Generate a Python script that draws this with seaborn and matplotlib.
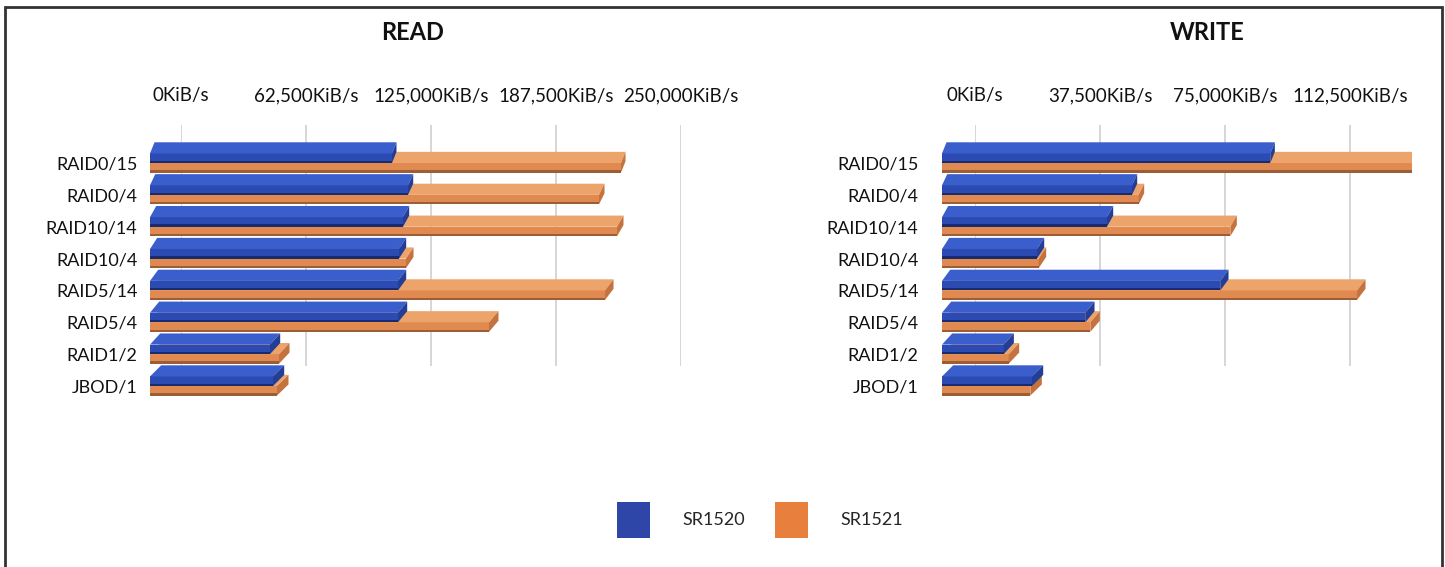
import numpy as np
import pandas as pd
import matplotlib
matplotlib.use("Agg")
import matplotlib.pyplot as plt
from matplotlib.patches import Polygon, Rectangle, Patch
from matplotlib.ticker import FuncFormatter
import seaborn as sns

# ---- data -------------------------------------------------------------
categories = ["RAID0/15", "RAID0/4", "RAID10/14", "RAID10/4",
              "RAID5/14", "RAID5/4", "RAID1/2", "JBOD/1"]
series = ["SR1520", "SR1521"]

read_sr1520 = [121000, 129000, 126500, 124500, 124000, 124000, 60000, 61500]
read_sr1521 = [235500, 224500, 233500, 128000, 227500, 169500, 64500, 63500]

write_sr1520 = [98500, 57000, 49500, 28500, 83500, 43000, 18500, 27000]
write_sr1521 = [145000, 59000, 86500, 29000, 124500, 44500, 20000, 26500]

read_ticks = [0, 62500, 125000, 187500, 250000]
write_ticks = [0, 37500, 75000, 112500]

# ---- style ------------------------------------------------------------
sns.set_theme(style="white")
plt.rcParams["font.family"] = ["Lato", "DejaVu Sans"]

W, H = 1445, 567
fig = plt.figure(figsize=(W / 100, H / 100), dpi=100)
fig.patch.set_facecolor("white")

face = {
    "SR1520": dict(front="#2B4BB2", top="#3A5FCD", side="#223E96", edge="#15235E"),
    "SR1521": dict(front="#E08A52", top="#EDA46B", side="#C4733F", edge="#8A5431"),
}
legend_colors = {"SR1520": "#2E46A8", "SR1521": "#E97F3C"}


def rect(l, t, r, b):
    return [l / W, 1 - b / H, (r - l) / W, (b - t) / H]


def kib(v, _pos=None):
    return f"{int(v):,}KiB/s"


ROW_PX = 31.86
ROW0_PX = 163


def panel(values_a, values_b, ticks, title, title_x, per_px,
          front_lr, back_lr, label_pad):
    df = pd.DataFrame({
        "Array": categories * 2,
        "Controller": [series[0]] * len(categories) + [series[1]] * len(categories),
        "KiB/s": list(values_a) + list(values_b),
    })

    # back wall: gridlines and value labels
    fl, fr = front_lr
    bl, br = back_lr
    back = fig.add_axes(rect(bl, 125, br, 366))
    back.set_facecolor("none")
    back.set_xlim(0, (br - bl) * per_px)
    back.set_ylim(0, 1)
    back.set_xticks(ticks)
    back.xaxis.set_major_formatter(FuncFormatter(kib))
    back.xaxis.tick_top()
    back.tick_params(axis="x", length=0, pad=15, labelsize=13.5, labelcolor="#111111")
    back.set_yticks([])
    for t in ticks:
        back.axvline(t, color="#CFCFCF", lw=1.2, zorder=0)
    for s in back.spines.values():
        s.set_visible(False)

    # front: the bars
    ax = fig.add_axes(rect(fl, ROW0_PX - ROW_PX * 1.0, fr, ROW0_PX + ROW_PX * 7.5))
    ax.set_facecolor("none")
    sns.barplot(data=df, y="Array", x="KiB/s", hue="Controller", orient="h",
                order=categories, hue_order=series,
                palette=[face[s]["front"] for s in series],
                width=0.6, saturation=1, legend=False, ax=ax, linewidth=0)
    ax.set_xlim(0, (fr - fl) * per_px)
    ax.set_ylim(7.5, -1.0)
    ax.set_xlabel("")
    ax.set_ylabel("")
    ax.set_xticks([])
    ax.tick_params(axis="y", length=0, pad=label_pad, labelsize=13, labelcolor="#111111")
    for s in ax.spines.values():
        s.set_visible(False)

    # slab depth: top and end faces drawn from each bar's own geometry;
    # lower rows are seen from a steeper angle, so their depth slant grows
    ht = 0.35
    for name, cont, z in zip(series, ax.containers, [5, 3]):
        c = face[name]
        for bar in cont:
            x0, y0 = bar.get_x(), bar.get_y()
            w, h = bar.get_width(), bar.get_height()
            sx = (4.5 + 1.0 * max(y0, 0)) * per_px
            bar.set_zorder(z)
            ax.add_patch(Polygon([(x0, y0), (x0 + w, y0), (x0 + w + sx, y0 - ht),
                                  (x0 + sx, y0 - ht)], closed=True,
                                 facecolor=c["top"], edgecolor="none", zorder=z))
            ax.add_patch(Polygon([(x0 + w, y0 + h), (x0 + w, y0),
                                  (x0 + w + sx, y0 - ht), (x0 + w + sx, y0 + h - ht)],
                                 closed=True, facecolor=c["side"], edgecolor="none",
                                 zorder=z))
            ax.add_patch(Rectangle((x0, y0 + h - 0.07), w, 0.07,
                                   facecolor=c["edge"], edgecolor="none",
                                   alpha=0.8, zorder=z))

    fig.text(title_x / W, 1 - 32 / H, title, ha="center", va="center",
             fontsize=17, fontweight="bold", color="#111111")


panel(read_sr1520, read_sr1521, read_ticks, "READ", 413, 500,
      front_lr=(150, 700), back_lr=(181, 681), label_pad=9)
panel(write_sr1520, write_sr1521, write_ticks, "WRITE", 1207, 300,
      front_lr=(942, 1412), back_lr=(975, 1412), label_pad=17)

# legend
handles = [Patch(facecolor=legend_colors[s], edgecolor="none", label=s) for s in series]
fig.legend(handles=handles, loc="center", bbox_to_anchor=(760 / W, 1 - 520 / H),
           ncol=2, frameon=False, fontsize=13, handlelength=1.8, handleheight=2.7,
           handletextpad=1.8, columnspacing=1.7)

# outer frame
fig.add_artist(Rectangle((5 / W, -0.1), (1442 - 5) / W, 1 - 7 / H + 0.1,
                         transform=fig.transFigure, fill=False,
                         edgecolor="#333333", linewidth=2, clip_on=False))

fig.savefig("out.png", dpi=100, facecolor="white")
